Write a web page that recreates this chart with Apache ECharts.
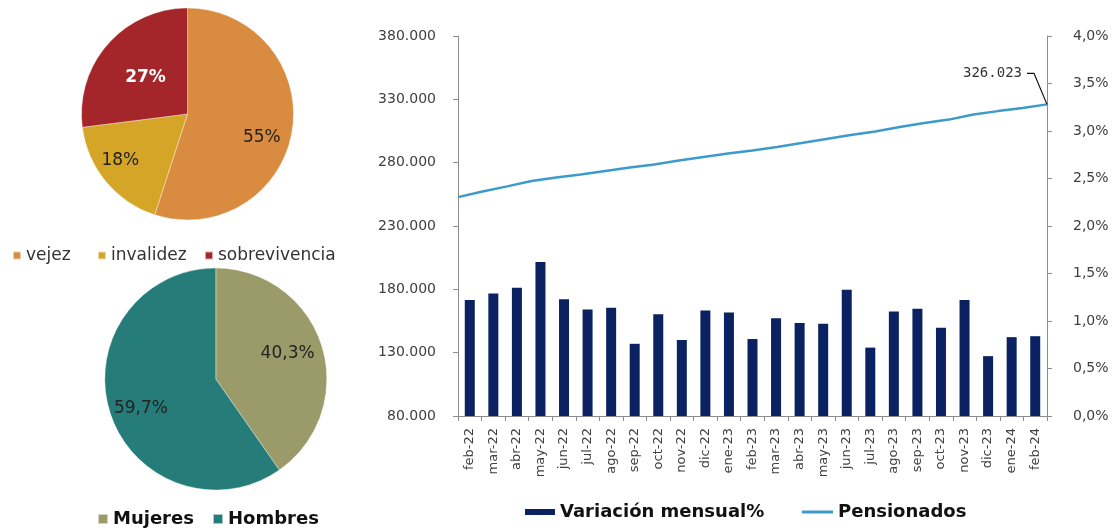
<!DOCTYPE html>
<html>
<head>
<meta charset="utf-8">
<script src="https://cdn.jsdelivr.net/npm/echarts@6/dist/echarts.min.js"></script>
<style>
  html, body { margin: 0; padding: 0; background: #fff; }
  #chart { width: 1118px; height: 531px; }
</style>
</head>
<body>
<div id="chart"></div>
<script>
// ---------- DATA ----------
const tipoNames = ['vejez', 'invalidez', 'sobrevivencia'];
const tipoValues = [55, 18, 27];

const sexoNames = ['Mujeres', 'Hombres'];
const sexoValues = [40.3, 59.7];

const categories = ['feb-22','mar-22','abr-22','may-22','jun-22','jul-22','ago-22','sep-22','oct-22','nov-22','dic-22','ene-23',
  'feb-23','mar-23','abr-23','may-23','jun-23','jul-23','ago-23','sep-23','oct-23','nov-23','dic-23','ene-24','feb-24'];
const variacionMensual = [1.22,1.29,1.35,1.62,1.23,1.12,1.14,0.76,1.07,0.80,1.11,1.09,
  0.81,1.03,0.98,0.97,1.33,0.72,1.10,1.13,0.93,1.22,0.63,0.83,0.84];
const pensionados = [252800,257200,261300,265600,268300,270700,273500,276200,278600,281700,284500,287200,
  289600,292400,295500,298700,301800,304600,308100,311300,314000,318000,320700,323100,326023];

const leftTicks = [80000,130000,180000,230000,280000,330000,380000];
const rightTicks = [0,0.5,1,1.5,2,2.5,3,3.5,4];

// ---------- HELPERS ----------
const FONT = 'DejaVu Sans';
function fmtThousands(v) {
  return String(Math.round(v)).replace(/\B(?=(\d{3})+(?!\d))/g, '.');
}
const lastIdx = pensionados.length - 1;

const tipoColors = ['#D98B40', '#D4A527', '#A5262A'];
const sexoColors = ['#9B9A69', '#267C79'];
const tipoLabelOffsets = [[19, 15], [-24, 11], [0, 1]];
const sexoLabelOffsets = [[16, -8], [-19, 12]];
const calloutDx = -20, calloutDy = -31;

const chart = echarts.init(document.getElementById('chart'), null, { renderer: 'canvas' });

const option = {
  backgroundColor: '#ffffff',
  animation: false,
  textStyle: { fontFamily: FONT },
  legend: [
    { data: [tipoNames[0]], left: 12, top: 247, padding: 0, icon: 'rect', itemWidth: 8, itemHeight: 8,
      textStyle: { fontFamily: FONT, fontSize: 17, color: '#333' } },
    { data: [tipoNames[1]], left: 97, top: 247, padding: 0, icon: 'rect', itemWidth: 8, itemHeight: 8,
      textStyle: { fontFamily: FONT, fontSize: 17, color: '#333' } },
    { data: [tipoNames[2]], left: 204, top: 247, padding: 0, icon: 'rect', itemWidth: 8, itemHeight: 8,
      textStyle: { fontFamily: FONT, fontSize: 17, color: '#333' } },
    { data: [sexoNames[0]], left: 97, top: 510, padding: 0, icon: 'rect', itemWidth: 10, itemHeight: 10,
      textStyle: { fontFamily: FONT, fontSize: 18, fontWeight: 'bold', color: '#111' } },
    { data: [sexoNames[1]], left: 212, top: 510, padding: 0, icon: 'rect', itemWidth: 10, itemHeight: 10,
      textStyle: { fontFamily: FONT, fontSize: 18, fontWeight: 'bold', color: '#111' } },
    { data: ['Variación mensual%'], left: 525, top: 503, padding: 0, icon: 'rect', itemWidth: 30, itemHeight: 6,
      textStyle: { fontFamily: FONT, fontSize: 18, fontWeight: 'bold', color: '#111' } },
    { data: ['Pensionados'], left: 802, top: 503, padding: 0, icon: 'rect', itemWidth: 31, itemHeight: 3,
      textStyle: { fontFamily: FONT, fontSize: 18, fontWeight: 'bold', color: '#111' } }
  ],
  grid: { left: 458, right: 71, top: 36, bottom: 115, containLabel: false },
  xAxis: [
    {
      type: 'category', data: categories, boundaryGap: true, position: 'bottom',
      axisLine: { show: true, lineStyle: { color: '#8c8c8c', width: 1 } },
      axisTick: { show: true, length: 5, lineStyle: { color: '#8c8c8c' } },
      axisLabel: { rotate: 90, interval: 0, fontSize: 13, color: '#404040', margin: 12, fontFamily: FONT },
      splitLine: { show: false }
    },
    {
      type: 'category', data: categories, boundaryGap: false, show: false, position: 'bottom'
    }
  ],
  yAxis: [
    {
      type: 'value', position: 'left', min: 80000, max: 380000,
      axisLine: { show: true, lineStyle: { color: '#8c8c8c', width: 1 } },
      axisTick: { show: true, length: 5, lineStyle: { color: '#8c8c8c' }, customValues: leftTicks },
      axisLabel: { customValues: leftTicks, formatter: v => fmtThousands(v), fontSize: 14, color: '#404040', margin: 22, fontFamily: FONT },
      splitLine: { show: false }
    },
    {
      type: 'value', position: 'right', min: 0, max: 4, interval: 0.5,
      axisLine: { show: true, lineStyle: { color: '#8c8c8c', width: 1 } },
      axisTick: { show: true, length: 5, lineStyle: { color: '#8c8c8c' }, customValues: rightTicks },
      axisLabel: { customValues: rightTicks, formatter: v => v.toFixed(1).replace('.', ',') + '%', fontSize: 14, color: '#404040', margin: 26, fontFamily: FONT },
      splitLine: { show: false }
    }
  ],
  series: [
    {
      type: 'pie', name: 'tipo', center: [187.5, 114], radius: 106, startAngle: 90, clockwise: true,
      data: tipoNames.map((n, i) => ({
        name: n, value: tipoValues[i], itemStyle: { color: tipoColors[i] },
        label: i === 2 ? { color: '#ffffff', fontWeight: 'bold' } : {}
      })),
      itemStyle: { borderColor: 'rgba(255,255,255,0.6)', borderWidth: 0.6 },
      label: { show: true, position: 'inside', formatter: p => Math.round(p.value) + '%', fontSize: 17, color: '#222', fontFamily: FONT },
      labelLine: { show: false },
      labelLayout: p => ({ dx: tipoLabelOffsets[p.dataIndex][0], dy: tipoLabelOffsets[p.dataIndex][1] }),
      emphasis: { disabled: true }
    },
    {
      type: 'pie', name: 'sexo', center: [215.8, 379], radius: 111, startAngle: 90, clockwise: true,
      data: sexoNames.map((n, i) => ({ name: n, value: sexoValues[i], itemStyle: { color: sexoColors[i] } })),
      itemStyle: { borderColor: 'rgba(255,255,255,0.6)', borderWidth: 0.6 },
      label: { show: true, position: 'inside', formatter: p => p.value.toFixed(1).replace('.', ',') + '%', fontSize: 17, color: '#222', fontFamily: FONT },
      labelLine: { show: false },
      labelLayout: p => ({ dx: sexoLabelOffsets[p.dataIndex][0], dy: sexoLabelOffsets[p.dataIndex][1] }),
      emphasis: { disabled: true }
    },
    {
      type: 'bar', name: 'Variación mensual%', xAxisIndex: 0, yAxisIndex: 1,
      data: variacionMensual, barWidth: 10,
      itemStyle: { color: '#0B2262' },
      emphasis: { disabled: true }
    },
    {
      type: 'line', name: 'Pensionados', xAxisIndex: 1, yAxisIndex: 0,
      data: pensionados.map((v, i) => i === lastIdx ? {
        value: v,
        label: { show: true, position: 'left', distance: 5, formatter: p => fmtThousands(p.value),
          fontFamily: 'DejaVu Sans Mono', fontSize: 14, color: '#333' }
      } : v),
      symbol: 'circle', symbolSize: 0, showSymbol: true, showAllSymbol: true,
      lineStyle: { color: '#3C9BCB', width: 2.5 },
      itemStyle: { color: '#3C9BCB' },
      labelLayout: p => p.dataIndex === lastIdx ? { dx: calloutDx, dy: calloutDy } : {},
      emphasis: { disabled: true },
      z: 3
    }
  ]
};
chart.setOption(option);

// Leader line for the callout, anchored to the last data point through the chart's own scales
const pt = chart.convertToPixel({ xAxisIndex: 1, yAxisIndex: 0 }, [lastIdx, pensionados[lastIdx]]);
const leader = new echarts.graphic.Polyline({
  z: 100, silent: true,
  shape: { points: [[pt[0] + calloutDx, pt[1] + calloutDy], [pt[0] + calloutDx + 7, pt[1] + calloutDy], [pt[0], pt[1]]] },
  style: { stroke: '#111', lineWidth: 1.2, fill: null }
});
chart.getZr().add(leader);
</script>
</body>
</html>
